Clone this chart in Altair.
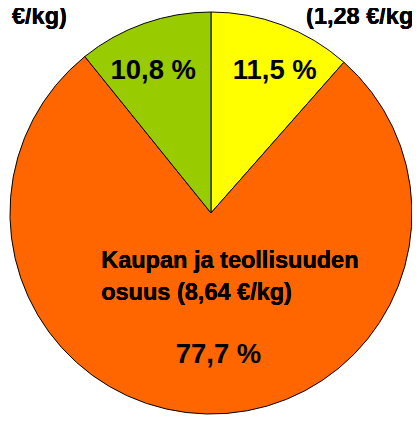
import altair as alt
import pandas as pd

# Slice data (clockwise from 12 o'clock)
shares = ["Kauppa1", "Kaupan ja teollisuuden osuus", "Tuottaja"]
values = [11.5, 77.7, 10.8]
pct_labels = ["11,5 %", "77,7 %", "10,8 %"]
colors = ["#FFFF00", "#FF6600", "#99CC00"]

# Label texts
orange_label = ["Kaupan ja teollisuuden", "osuus (8,64 €/kg)"]
yellow_label = "(1,28 €/kg)"
green_label = "(1,21 €/kg)"

df = pd.DataFrame({
    "share": shares,
    "value": values,
    "label": pct_labels,
    "idx": list(range(len(values))),
})

FONT = "Liberation Sans"
CX, CY, R = 207, 205, 205
theta_scale = alt.Scale(domain=[0, 100])

pie = alt.Chart(df).mark_arc(radius=R, stroke="black", strokeWidth=1).encode(
    theta=alt.Theta("value:Q", stack=True, scale=theta_scale),
    order=alt.Order("idx:Q"),
    x=alt.value(CX),
    y=alt.value(CY),
    color=alt.Color("share:N", scale=alt.Scale(domain=shares, range=colors), legend=None),
)

# percentage labels: placed at each slice's mid-angle, with a small nudge each
lab = alt.Chart(df).transform_window(
    cum="sum(value)", sort=[alt.SortField("idx")], frame=[None, 0]
).transform_calculate(mid="datum.cum - datum.value / 2")

nudges = {0: (12, -4), 1: (11, -5), 2: (-9, -3)}
pct_layers = []
for i, (ndx, ndy) in nudges.items():
    pct_layers.append(
        lab.transform_filter(f"datum.idx == {i}").mark_text(
            radius=150, dx=ndx, dy=ndy, font=FONT, fontSize=28, fontWeight="bold",
            color="black", align="center", baseline="middle",
        ).encode(
            theta=alt.Theta("mid:Q", stack=None, scale=theta_scale),
            x=alt.value(CX),
            y=alt.value(CY),
            text="label:N",
        )
    )

orange_txt = alt.Chart(df).mark_text(
    text=orange_label, font=FONT, fontSize=24, fontWeight="bold", color="black",
    align="left", baseline="alphabetic", lineHeight=33,
).encode(x=alt.value(95), y=alt.value(261))

yellow_txt = alt.Chart(df).mark_text(
    text=yellow_label, font=FONT, fontSize=24, fontWeight="bold", color="black",
    align="left", baseline="alphabetic",
).encode(x=alt.value(304), y=alt.value(12))

green_txt = alt.Chart(df).mark_text(
    text=green_label, font=FONT, fontSize=24, fontWeight="bold", color="black",
    align="right", baseline="alphabetic",
).encode(x=alt.value(60), y=alt.value(12))

chart = alt.layer(pie, *pct_layers, orange_txt, yellow_txt, green_txt).properties(
    width=412, height=413, padding=0,
    autosize=alt.AutoSizeParams(type="none"),
).configure_view(stroke=None)

chart.save("out.html", embed_options={"renderer": "svg", "actions": False})
